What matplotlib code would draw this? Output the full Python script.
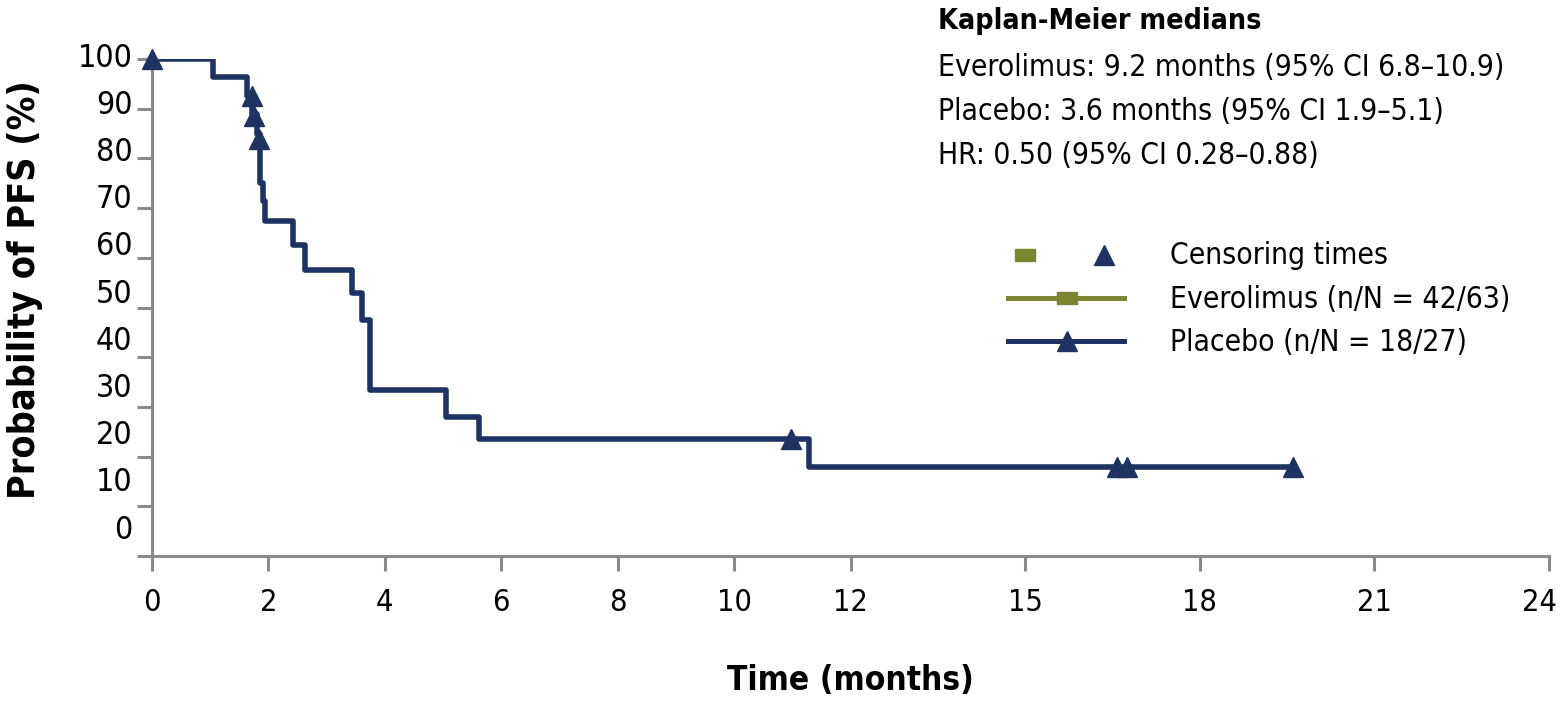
import matplotlib
matplotlib.use("Agg")
import matplotlib.pyplot as plt
from matplotlib.lines import Line2D
from matplotlib import font_manager
import matplotlib.transforms as mtransforms

# the original uses a narrow sans; take one if the machine has it
narrow = None
for f in font_manager.fontManager.ttflist:
    if 'Narrow' in f.name or 'Condensed' in f.name or f.stretch in ('condensed', 'semi-condensed', 'extra-condensed', 400):
        narrow = f
        break
if narrow is not None:
    plt.rcParams['font.family'] = [narrow.name, 'Liberation Sans', 'DejaVu Sans']
    plt.rcParams['font.stretch'] = narrow.stretch
else:
    plt.rcParams['font.family'] = ['Liberation Sans', 'DejaVu Sans']

NAVY = '#1f3362'
OLIVE = '#7d8431'
GREY = '#8a8a8a'

# placebo Kaplan-Meier curve
pl_times = [0, 1.04, 1.64, 1.72, 1.80, 1.86, 1.90, 1.94, 2.42, 2.63, 3.44, 3.60, 3.75, 5.05, 5.62, 11.29, 19.57]
pl_surv = [100, 96.3, 92.6, 88.9, 85.0, 75.0, 71.5, 67.4, 62.5, 57.5, 53.0, 47.5, 33.3, 28.0, 23.5, 18.0, 18.0]

# censoring times for placebo
cens_t = [0, 1.71, 1.76, 1.84, 10.98, 16.58, 16.75, 19.6]
cens_s = [100, 92.5, 88.5, 84.0, 23.5, 18.0, 18.0, 18.0]

xticks = [0, 2, 4, 6, 8, 10, 12, 15, 18, 21, 24]
yticks = [0, 10, 20, 30, 40, 50, 60, 70, 80, 90, 100]

medians_title = 'Kaplan-Meier medians'
medians_lines = ['Everolimus: 9.2 months (95% CI 6.8\u201310.9)',
                 'Placebo: 3.6 months (95% CI 1.9\u20135.1)',
                 'HR: 0.50 (95% CI 0.28\u20130.88)']
legend_labels = ['Censoring times', 'Everolimus (n/N = 42/63)', 'Placebo (n/N = 18/27)']

W, H = 1562, 702
fig = plt.figure(figsize=(W / 100, H / 100), dpi=100)
ax = fig.add_axes([152 / W, 1 - 556 / H, (1549 - 152) / W, (556 - 59) / H])

ax.step(pl_times, pl_surv, where='post', color=NAVY, lw=4, zorder=3)
ax.plot(cens_t, cens_s, ls='none', marker='^', ms=14, color=NAVY, clip_on=False, zorder=4)

ax.set_xlim(0, 24)
ax.set_ylim(0, 100)
ax.set_xticks(xticks)
ax.set_xticklabels([str(t) for t in xticks], fontsize=22)
ax.set_yticks(yticks)
ax.set_yticklabels([])
for s in ['top', 'right']:
    ax.spines[s].set_visible(False)
for s in ['left', 'bottom']:
    ax.spines[s].set_color(GREY)
    ax.spines[s].set_linewidth(2.2)
ax.tick_params(axis='both', direction='out', length=11, width=2.2, color=GREY)
ax.tick_params(axis='x', pad=12)
# nudge the last label so it stays inside the picture
last = ax.get_xticklabels()[-1]
last.set_transform(last.get_transform() + mtransforms.ScaledTranslation(-10 / 100, 0, fig.dpi_scale_trans))

# y tick labels drift slightly above their ticks in the original
for v in yticks:
    ax.text(-0.014, 5.2 + 0.95 * v, str(v), transform=ax.get_yaxis_transform(),
            ha='right', va='center', fontsize=23)

fig.text(850 / W, 1 - 680 / H, 'Time (months)', ha='center', va='center',
         fontsize=24, fontweight='bold')
fig.text(25 / W, 1 - 290 / H, 'Probability of PFS (%)', ha='center', va='center',
         rotation=90, fontsize=27, fontweight='bold')

# medians box
fig.text(938 / W, 1 - 21 / H, medians_title, ha='left', va='center', fontsize=20.5, fontweight='bold')
for i, line in enumerate(medians_lines):
    fig.text(938 / W, 1 - (68 + 44 * i) / H, line, ha='left', va='center', fontsize=21.5)

# legend drawn by hand
rect = [(-1, -0.6), (1, -0.6), (1, 0.6), (-1, 0.6), (-1, -0.6)]
tf = fig.transFigure
fig.add_artist(Line2D([1025 / W], [1 - 255 / H], marker=rect, ms=15, color=OLIVE, ls='none', transform=tf))
fig.add_artist(Line2D([1104 / W], [1 - 255 / H], marker='^', ms=14, color=NAVY, ls='none', transform=tf))
fig.add_artist(Line2D([1008 / W, 1124 / W], [1 - 298 / H] * 2, color=OLIVE, lw=3.6, transform=tf))
fig.add_artist(Line2D([1067 / W], [1 - 298 / H], marker=rect, ms=15, color=OLIVE, ls='none', transform=tf))
fig.add_artist(Line2D([1008 / W, 1124 / W], [1 - 341 / H] * 2, color=NAVY, lw=3.6, transform=tf))
fig.add_artist(Line2D([1067 / W], [1 - 341 / H], marker='^', ms=14, color=NAVY, ls='none', transform=tf))
for i, lab in enumerate(legend_labels):
    fig.text(1170 / W, 1 - (256 + 43 * i) / H, lab, ha='left', va='center', fontsize=21.5)

fig.savefig('out.png', dpi=100)
